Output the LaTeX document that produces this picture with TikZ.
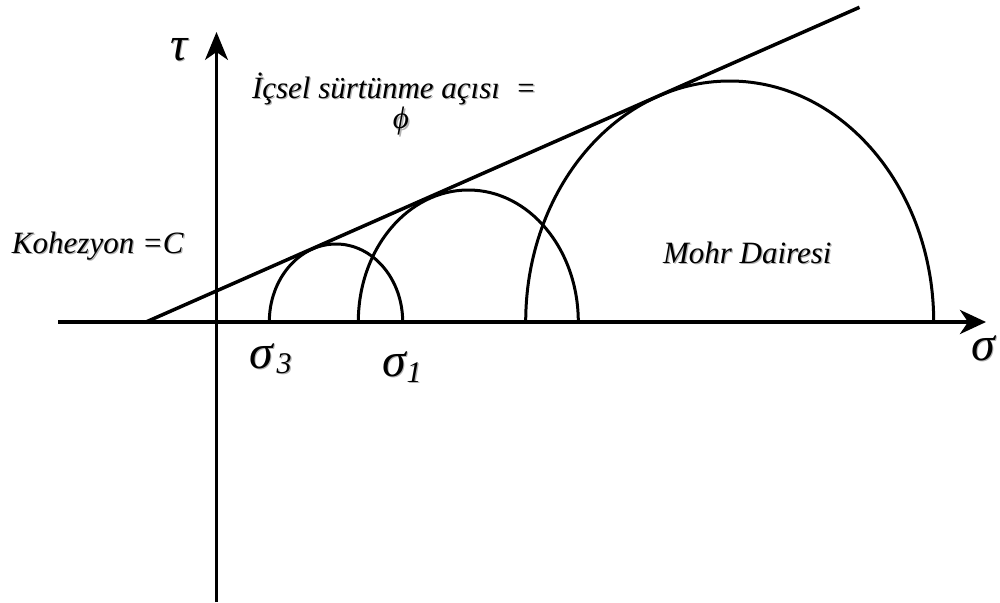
\documentclass[tikz,border=0pt]{standalone}
\usepackage{fontspec}
\setmainfont{Liberation Serif}
\usetikzlibrary{arrows.meta}
\newcommand\shd[1]{\makebox[0pt][l]{\kern1.3pt\raisebox{-1.3pt}{\color{black!30}#1}}#1}
\tikzset{
  axisline/.style={line width=4pt,-{Stealth[length=26pt,width=24pt,inset=8pt]}},
  vaxis/.style={line width=2.3pt,-{Stealth[length=28pt,width=23pt,inset=8pt]}},
  envelope/.style={line width=3.5pt},
  mohr/.style={line width=3pt},
  lbl/.style={inner sep=0pt,outer sep=0pt,font=\fontsize{31}{36}\selectfont\itshape},
  greek/.style={inner sep=0pt,outer sep=0pt,font=\fontsize{48}{52}\selectfont\itshape},
}
\begin{document}
\begin{tikzpicture}[x=1pt,y=-1pt]
\useasboundingbox (0,0) rectangle (1000,602);
% axes
\coordinate (xs) at (58,322);
\coordinate (xe) at (986,322);
\coordinate (ys) at (216.5,602);
\coordinate (ye) at (216.5,32);
\draw[axisline] (xs) -- (xe);
\draw[vaxis] (ys) -- (ye);
% failure envelope
\coordinate (es) at (146,322);
\coordinate (ee) at (859.5,7.3);
\draw[envelope] (es) -- (ee);
% Mohr circles
\coordinate (c1) at (269.3,322);
\coordinate (c2) at (358.3,322);
\coordinate (c3) at (525.7,322);
\draw[mohr] (c1) arc[start angle=180,end angle=0,x radius=66.7pt,y radius=78pt];
\draw[mohr] (c2) arc[start angle=180,end angle=0,x radius=110pt,y radius=132pt];
\draw[mohr] (c3) arc[start angle=180,end angle=0,x radius=204pt,y radius=241pt];
% labels
\node[greek,anchor=center] (tau) at (179,50) {\shd{τ}};
\node[greek,anchor=center] (sig) at (983,349) {\shd{σ}};
\node[lbl,anchor=base west] (koh) at (12,253) {\shd{Kohezyon =C}};
\node[lbl,anchor=base west] (ic) at (252,98) {\shd{İçsel sürtünme açısı\ \ =}};
\node[lbl,anchor=center] (phi) at (401,122) {\shd{ϕ}};
\node[lbl,anchor=base west] (mohrlbl) at (663,263) {\shd{Mohr Dairesi}};
\node[greek,anchor=base west] (s3) at (249,368) {\shd{σ}\kern4pt\raisebox{-5pt}{\fontsize{30}{32}\selectfont\shd{3}}};
\node[greek,anchor=base west] (s1) at (382,376) {\shd{σ}\kern1pt\raisebox{-6pt}{\fontsize{30}{32}\selectfont\shd{1}}};
\end{tikzpicture}
\end{document}
